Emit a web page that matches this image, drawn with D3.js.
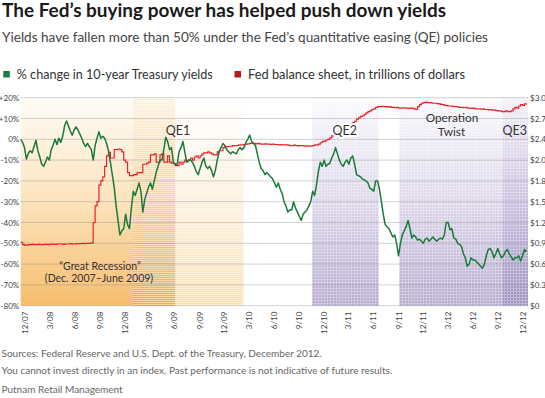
<!DOCTYPE html>
<html>
<head>
<meta charset="utf-8">
<script src="https://cdn.jsdelivr.net/npm/d3@7"></script>
<style>
  html, body { margin: 0; padding: 0; background: #fff; }
  svg { display: block; }
  text { font-family: Lato, "Open Sans", sans-serif; }
</style>
</head>
<body>
<script>
// ---------------- DATA ----------------
const seriesStart = "2007-11-16";   // first weekly observation
const yieldChange = [   // % change in 10-year Treasury yields, weekly
  0, -1.5, -4, -9.5, -6.7, -5.5, -6.5, -3.5, -0.5, -5.5,
  -8.5, -12, -13, -11, -8.5, -10, -5, -2.7, 0, -2.5,
  0.5, -1.5, 1.5, 6.5, 8.8, 6.5, 4, 2, 4.5, 6,
  4.5, 2.5, 0.5, -2, -3.5, -2, -3.5, -5, -10, -3,
  0.5, 3.7, 0.5, 1.5, 0.5, -2, -5.5, -11, -17, -23,
  -32, -39, -46, -44, -43, -36, -41, -43, -33, -25,
  -27, -24, -21, -25, -35, -29, -26, -23, -21, -24,
  -20, -16, -13, -10, -10, -5, 1, -1, -5, -4,
  -11, -12, -12, -6, -4, -1, -6, -11, -10, -10,
  -11, -13, -15.5, -17, -14, -11, -9, -13, -14, -13,
  -15, -18, -15, -10, -6, -4, -2, -3, -5, -6,
  -7, -6, -6.5, -7, -5, -4, -5, -4, -1.5, 0,
  2, -1, -2, -3, -7, -11, -14, -15, -17, -16,
  -17, -18, -19, -21, -23, -21, -24, -26, -30, -32,
  -35, -34, -34, -30, -33, -35, -37, -39, -36, -35,
  -34, -32, -30, -25, -27, -22, -15.5, -11, -13, -10,
  -13, -12, -11.5, -9, -7, -4, -7, -10, -12, -13,
  -11, -10, -12, -9, -8, -12, -17, -17.5, -18, -19,
  -19.5, -20, -21, -23.5, -24, -25, -20, -20, -24, -30,
  -36, -41, -42, -43, -45, -47, -46, -50, -56, -50,
  -46, -44, -42, -39, -43, -47.5, -46, -47, -48.5, -48,
  -49, -50, -48, -47.5, -49, -48, -47, -48, -49, -48,
  -47.5, -48, -46, -40, -40, -43.5, -43, -47.5, -48, -50,
  -50.5, -51.5, -55, -57, -61, -60, -57, -58, -58, -59,
  -60, -61, -62, -60, -56, -53, -52.5, -54, -57, -55,
  -52.5, -55, -57, -56, -54, -53, -55, -56.5, -58, -57,
  -57, -56, -58.5, -56, -53, -54
];
const fedBalance = [   // Fed balance sheet, trillions of dollars, weekly
  0.915, 0.88, 0.875, 0.875, 0.88, 0.88, 0.885, 0.88, 0.88, 0.885,
  0.88, 0.88, 0.885, 0.885, 0.88, 0.885, 0.89, 0.885, 0.885, 0.89,
  0.89, 0.89, 0.885, 0.89, 0.89, 0.89, 0.895, 0.89, 0.89, 0.895,
  0.895, 0.895, 0.9, 0.895, 0.9, 0.9, 0.9, 0.905, 1.20, 1.44,
  1.50, 1.74, 1.80, 1.86, 2.01, 2.16, 2.21, 2.13, 2.13, 2.25,
  2.25, 2.26, 2.25, 2.22, 2.10, 2.07, 1.92, 1.875, 1.875, 1.89,
  1.89, 1.92, 1.92, 1.92, 2.04, 2.04, 2.055, 2.07, 2.175, 2.175,
  2.19, 2.07, 2.07, 2.175, 2.19, 2.07, 2.07, 2.16, 2.07, 2.055,
  2.05, 2.02, 2.02, 2.07, 2.04, 2.07, 2.10, 2.085, 2.10, 2.13,
  2.10, 2.145, 2.16, 2.13, 2.16, 2.19, 2.205, 2.205, 2.22, 2.205,
  2.19, 2.175, 2.175, 2.22, 2.235, 2.235, 2.28, 2.295, 2.295, 2.30,
  2.30, 2.31, 2.31, 2.31, 2.315, 2.32, 2.32, 2.325, 2.33, 2.335,
  2.34, 2.34, 2.34, 2.335, 2.34, 2.335, 2.33, 2.33, 2.335, 2.33,
  2.33, 2.325, 2.33, 2.325, 2.325, 2.32, 2.325, 2.32, 2.32, 2.32,
  2.315, 2.31, 2.31, 2.315, 2.31, 2.305, 2.31, 2.31, 2.305, 2.30,
  2.305, 2.30, 2.305, 2.31, 2.32, 2.32, 2.33, 2.35, 2.37, 2.375,
  2.39, 2.40, 2.42, 2.45, 2.46, 2.48, 2.50, 2.52, 2.53, 2.55,
  2.57, 2.58, 2.60, 2.62, 2.64, 2.66, 2.69, 2.71, 2.73, 2.74,
  2.76, 2.78, 2.80, 2.81, 2.83, 2.84, 2.86, 2.87, 2.87, 2.875,
  2.87, 2.87, 2.865, 2.87, 2.86, 2.86, 2.855, 2.86, 2.85, 2.85,
  2.855, 2.85, 2.85, 2.845, 2.85, 2.845, 2.84, 2.83, 2.87, 2.90,
  2.92, 2.93, 2.935, 2.93, 2.93, 2.925, 2.92, 2.92, 2.915, 2.91,
  2.905, 2.90, 2.89, 2.885, 2.88, 2.88, 2.875, 2.87, 2.87, 2.865,
  2.86, 2.86, 2.855, 2.86, 2.85, 2.85, 2.845, 2.85, 2.84, 2.84,
  2.84, 2.835, 2.84, 2.83, 2.83, 2.825, 2.83, 2.82, 2.82, 2.815,
  2.81, 2.81, 2.80, 2.80, 2.81, 2.80, 2.80, 2.81, 2.84, 2.86,
  2.85, 2.88, 2.90, 2.89, 2.91, 2.90
];
const xTickLabels = ["12/07","3/08","6/08","9/08","12/08","3/09","6/09","9/09","12/09","3/10","6/10",
  "9/10","12/10","3/11","6/11","9/11","12/11","3/12","6/12","9/12","12/12"];
const leftTickValues = [20, 10, 0, -10, -20, -30, -40, -50, -60, -70, -80];
const leftTickLabels = ["+20%","+10%","0%","-10%","-20%","-30%","-40%","-50%","-60%","-70%","-80%"];
const rightTickValues = [3.0, 2.7, 2.4, 2.1, 1.8, 1.5, 1.2, 0.9, 0.6, 0.3, 0];
const rightTickLabels = ["$3.0","$2.7","$2.4","$2.0","$1.8","$1.5","$1.2","$0.9","$0.6","$0.3","$0"];
const periods = [
  {name: "recession", start: "2007-11-16", end: "2009-06-05"},
  {name: "QE1", start: "2009-01-01", end: "2010-02-10"},
  {name: "QE2", start: "2010-10-20", end: "2011-06-21"},
  {name: "Twist", start: "2011-09-05", end: "2012-12-20"},
  {name: "QE3", start: "2012-09-17", end: "2012-12-20"}
];
const title = "The Fed’s buying power has helped push down yields";
const subtitle = "Yields have fallen more than 50% under the Fed’s quantitative easing (QE) policies";
const legendItems = ["% change in 10-year Treasury yields", "Fed balance sheet, in trillions of dollars"];
const footnotes = ["Sources: Federal Reserve and U.S. Dept. of the Treasury, December 2012.",
  "You cannot invest directly in an index. Past performance is not indicative of future results.",
  "Putnam Retail Management"];

// ---------------- LAYOUT ----------------
const W = 545, H = 398;
const plotL = 20.7, plotR = 528, plotT = 97.7, plotB = 305.7;
const parse = d3.utcParse("%Y-%m-%d");
const start = parse(seriesStart);
const dates = yieldChange.map((_, i) => d3.utcDay.offset(start, 7 * i));

const x = d3.scaleUtc().domain([start, parse("2012-12-20")]).range([plotL, plotR]);
const yL = d3.scaleLinear().domain([-80, 20]).range([plotB, plotT]);
const yR = d3.scaleLinear().domain([0, 3.0]).range([plotB, plotT]);

const svg = d3.select("body").append("svg").attr("width", W).attr("height", H);
const defs = svg.append("defs");

function vgrad(id, stops) {
  const g = defs.append("linearGradient").attr("id", id)
    .attr("gradientUnits", "userSpaceOnUse").attr("x1", 0).attr("x2", 0)
    .attr("y1", plotT).attr("y2", plotB);
  stops.forEach(s => g.append("stop").attr("offset", s[0]).attr("stop-color", s[1]));
}
vgrad("gRec", [[0, "#fffcf7"], [0.45, "#fde6c4"], [1, "#f6be6d"]]);
vgrad("gOverlap", [[0, "#fdf1df"], [0.45, "#f9d7a4"], [1, "#f1ae55"]]);
vgrad("gQE1", [[0, "#ffffff"], [0.5, "#fdf0dc"], [1, "#fbdfb2"]]);
vgrad("gPurple", [[0, "#fbfafd"], [0.5, "#dcd6ea"], [1, "#b6aacf"]]);
vgrad("gQE3", [[0, "#f3f0f8"], [0.5, "#c9bfdf"], [1, "#9d8fbf"]]);

const pStripe = defs.append("pattern").attr("id", "stripes").attr("patternUnits", "userSpaceOnUse")
  .attr("width", 4).attr("height", 2);
pStripe.append("rect").attr("width", 4).attr("height", 1).attr("fill", "#fff").attr("opacity", 0.45);
const pGrid = defs.append("pattern").attr("id", "grid").attr("patternUnits", "userSpaceOnUse")
  .attr("width", 3).attr("height", 3);
pGrid.append("path").attr("d", "M0 0.5H3M0.5 0V3").attr("stroke", "#fff").attr("stroke-width", 1).attr("opacity", 0.35);

// ---------------- BANDS ----------------
const P = Object.fromEntries(periods.map(p => [p.name, {x0: x(parse(p.start)), x1: x(parse(p.end))}]));
const bands = svg.append("g");
function band(x0, x1, fill) {
  bands.append("rect").attr("x", x0).attr("y", plotT).attr("width", x1 - x0).attr("height", plotB - plotT).attr("fill", fill);
}
band(P.recession.x0, P.recession.x1, "url(#gRec)");
band(P.recession.x1, P.QE1.x1, "url(#gQE1)");
band(P.QE1.x0, P.recession.x1, "url(#gOverlap)");
band(P.QE1.x0, P.QE1.x1, "url(#stripes)");
band(P.QE2.x0, P.QE2.x1, "url(#gPurple)");
band(P.Twist.x0, P.QE3.x0, "url(#gPurple)");
band(P.QE3.x0, P.QE3.x1, "url(#gQE3)");
band(P.QE2.x0, P.QE2.x1, "url(#grid)");
band(P.Twist.x0, P.Twist.x1, "url(#grid)");

// ---------------- GRID + AXES ----------------
svg.append("g").selectAll("line").data(leftTickValues).join("line")
  .attr("x1", plotL).attr("x2", plotR)
  .attr("y1", d => yL(d)).attr("y2", d => yL(d))
  .attr("stroke", "#8c8c8c").attr("stroke-opacity", 0.38).attr("stroke-width", 1);

const leftAxis = svg.append("g").attr("transform", `translate(${plotL - 1.5},0)`)
  .call(d3.axisLeft(yL).tickValues(leftTickValues).tickSize(0).tickPadding(0)
    .tickFormat((d, i) => leftTickLabels[i]));
leftAxis.select(".domain").remove();
leftAxis.selectAll("text").attr("font-size", 8).attr("fill", "#444").attr("font-family", "Lato, sans-serif");

const rightAxis = svg.append("g").attr("transform", `translate(${plotR + 2},0)`)
  .call(d3.axisRight(yR).tickValues(rightTickValues).tickSize(0).tickPadding(0)
    .tickFormat((d, i) => rightTickLabels[i]));
rightAxis.select(".domain").remove();
rightAxis.selectAll("text").attr("font-size", 8).attr("fill", "#444").attr("font-family", "Lato, sans-serif");

const tickDates = xTickLabels.map(s => { const [m, yy] = s.split("/").map(Number); return new Date(Date.UTC(2000 + yy, m - 1, 1)); });
const bottomAxis = svg.append("g").attr("transform", `translate(0,${plotB})`)
  .call(d3.axisBottom(x).tickValues(tickDates).tickSize(0).tickPadding(0)
    .tickFormat((d, i) => xTickLabels[i]));
bottomAxis.select(".domain").remove();
bottomAxis.selectAll("text")
  .attr("font-size", 8).attr("fill", "#444").attr("font-family", "Lato, sans-serif")
  .attr("text-anchor", "end").attr("transform", "rotate(-90)")
  .attr("x", -6).attr("y", 0).attr("dy", "0.35em");

// ---------------- LINES ----------------
const redLine = d3.line().x((d, i) => x(dates[i])).y(d => yR(d)).curve(d3.curveStepAfter);
svg.append("path").datum(fedBalance).attr("d", redLine)
  .attr("fill", "none").attr("stroke", "#e8232a").attr("stroke-width", 1.2);

const greenLine = d3.line().x((d, i) => x(dates[i])).y(d => yL(d));
svg.append("path").datum(yieldChange).attr("d", greenLine)
  .attr("fill", "none").attr("stroke", "#1a7a3a").attr("stroke-width", 1.5).attr("stroke-linejoin", "round");

// ---------------- ANNOTATIONS ----------------
const ann = svg.append("g").attr("font-size", 12.5).attr("fill", "#333").attr("text-anchor", "middle")
  .attr("font-family", "Lato, sans-serif");
function label(txt, cx, y, halo, size) {
  const t = ann.append("text").attr("x", cx).attr("y", y).text(txt);
  if (size) t.attr("font-size", size);
  if (halo) t.attr("stroke", "#fff").attr("stroke-width", 4).attr("paint-order", "stroke").attr("stroke-linejoin", "round");
  return t;
}
label("QE1", 178, 135, false);
label("QE2", 344.7, 134.5, true);
label("Operation", 452, 122, false, 11.8);
label("Twist", 451.5, 136, false, 11.8);
label("QE3", 514.7, 134.5, false);
const rec = svg.append("g").attr("font-size", 10.5).attr("fill", "#333").attr("text-anchor", "middle")
  .attr("font-family", "Lato, sans-serif");
rec.append("text").attr("x", 100).attr("y", 269.5).text("“Great Recession”");
rec.append("text").attr("x", 99).attr("y", 281.5).text("(Dec. 2007–June 2009)");

// ---------------- TITLES / LEGEND / FOOTER ----------------
svg.append("text").attr("x", 2).attr("y", 17).attr("font-size", 18.5).attr("font-weight", 700)
  .attr("fill", "#1a1a1a").attr("textLength", 444).attr("lengthAdjust", "spacingAndGlyphs").text(title);
svg.append("text").attr("x", 2).attr("y", 42).attr("font-size", 14).attr("fill", "#444")
  .attr("textLength", 486).attr("lengthAdjust", "spacingAndGlyphs").text(subtitle);

const legend = svg.append("g");
const legendColors = ["#1d7b3b", "#b51d1d"];
const legendX = [3.3, 234.5];
const legendLen = [196, 217];
legendItems.forEach((t, i) => {
  legend.append("rect").attr("x", legendX[i]).attr("y", 71).attr("width", 6.5).attr("height", 6.5).attr("fill", legendColors[i]);
  legend.append("text").attr("x", legendX[i] + 13.5).attr("y", 79.3).attr("font-size", 12.5).attr("fill", "#333")
    .attr("textLength", legendLen[i]).attr("lengthAdjust", "spacingAndGlyphs").text(t);
});

const foot = svg.append("g").attr("font-family", "'Liberation Sans', Arial, sans-serif").attr("font-size", 10).attr("fill", "#666");
const footY = [356.5, 373.5, 392.5];
footnotes.forEach((t, i) => foot.append("text").attr("x", 1.5).attr("y", footY[i]).text(t));
</script>
</body>
</html>
